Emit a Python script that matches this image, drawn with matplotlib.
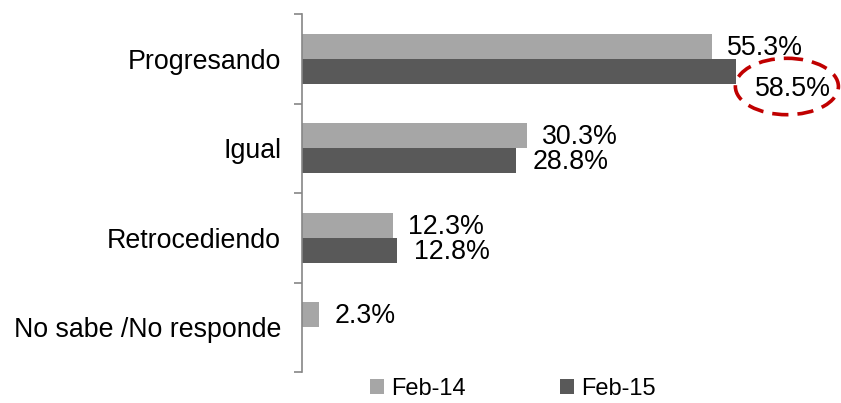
import numpy as np
import matplotlib.pyplot as plt
from matplotlib.patches import Ellipse

plt.rcParams['font.family'] = ['Liberation Sans', 'DejaVu Sans']

categories = ['Progresando', 'Igual', 'Retrocediendo', 'No sabe /No responde']
feb14 = [55.3, 30.3, 12.3, 2.3]
feb15 = [58.5, 28.8, 12.8, 0.0]
series_names = ['Feb-14', 'Feb-15']

c14 = '#A6A6A6'
c15 = '#595959'
fs = 19.3

fig = plt.figure(figsize=(8.41, 4.03), dpi=100)
ax = fig.add_axes([302/841, 31/403, 519/841, 358/403])

y = np.arange(len(categories))
h = 0.28
b1 = ax.barh(y - h/2, feb14, height=h, color=c14, label=series_names[0])
b2 = ax.barh(y + h/2, feb15, height=h, color=c15, label=series_names[1])

ax.set_xlim(0, 70)
ax.set_ylim(3.5, -0.5)

# data labels
for yi, v in zip(y - h/2, feb14):
    ax.annotate(f'{v:.1f}%', (v, yi), xytext=(11, -1), textcoords='offset points',
                va='center', ha='left', fontsize=fs)
for i, (yi, v) in enumerate(zip(y + h/2, feb15)):
    if v == 0:
        continue
    if i == 0:
        # highlighted value, moved down and circled
        ax.annotate(f'{v:.1f}%', (v, yi), xytext=(14, -13), textcoords='offset points',
                    va='center', ha='left', fontsize=fs)
        ax.add_patch(Ellipse((v + 6.9, yi + 0.17), 13.9, 0.63, fill=False,
                             ec='#C00000', lw=2.6, ls=(0, (4.5, 2.5)),
                             clip_on=False))
    else:
        ax.annotate(f'{v:.1f}%', (v, yi), xytext=(12, -1), textcoords='offset points',
                    va='center', ha='left', fontsize=fs)

# axes styling
for s in ['top', 'right', 'bottom']:
    ax.spines[s].set_visible(False)
ax.spines['left'].set_color('#868686')
ax.spines['left'].set_linewidth(1.2)
ax.set_xticks([])
ax.set_yticks(y)
ax.set_yticklabels(categories, fontsize=fs)
ax.tick_params(axis='y', which='major', length=0, pad=15)
ax.set_yticks(np.arange(-0.5, len(categories), 1), minor=True)
ax.tick_params(axis='y', which='minor', length=6, color='#868686', width=1.2)

fig.legend(handles=[b1, b2], loc='center', bbox_to_anchor=(0.61, 0.035), ncol=2,
           frameon=False, fontsize=17, handlelength=0.6, handleheight=0.6,
           handletextpad=0.3, columnspacing=4.0)

fig.savefig('out.png', dpi=100)
